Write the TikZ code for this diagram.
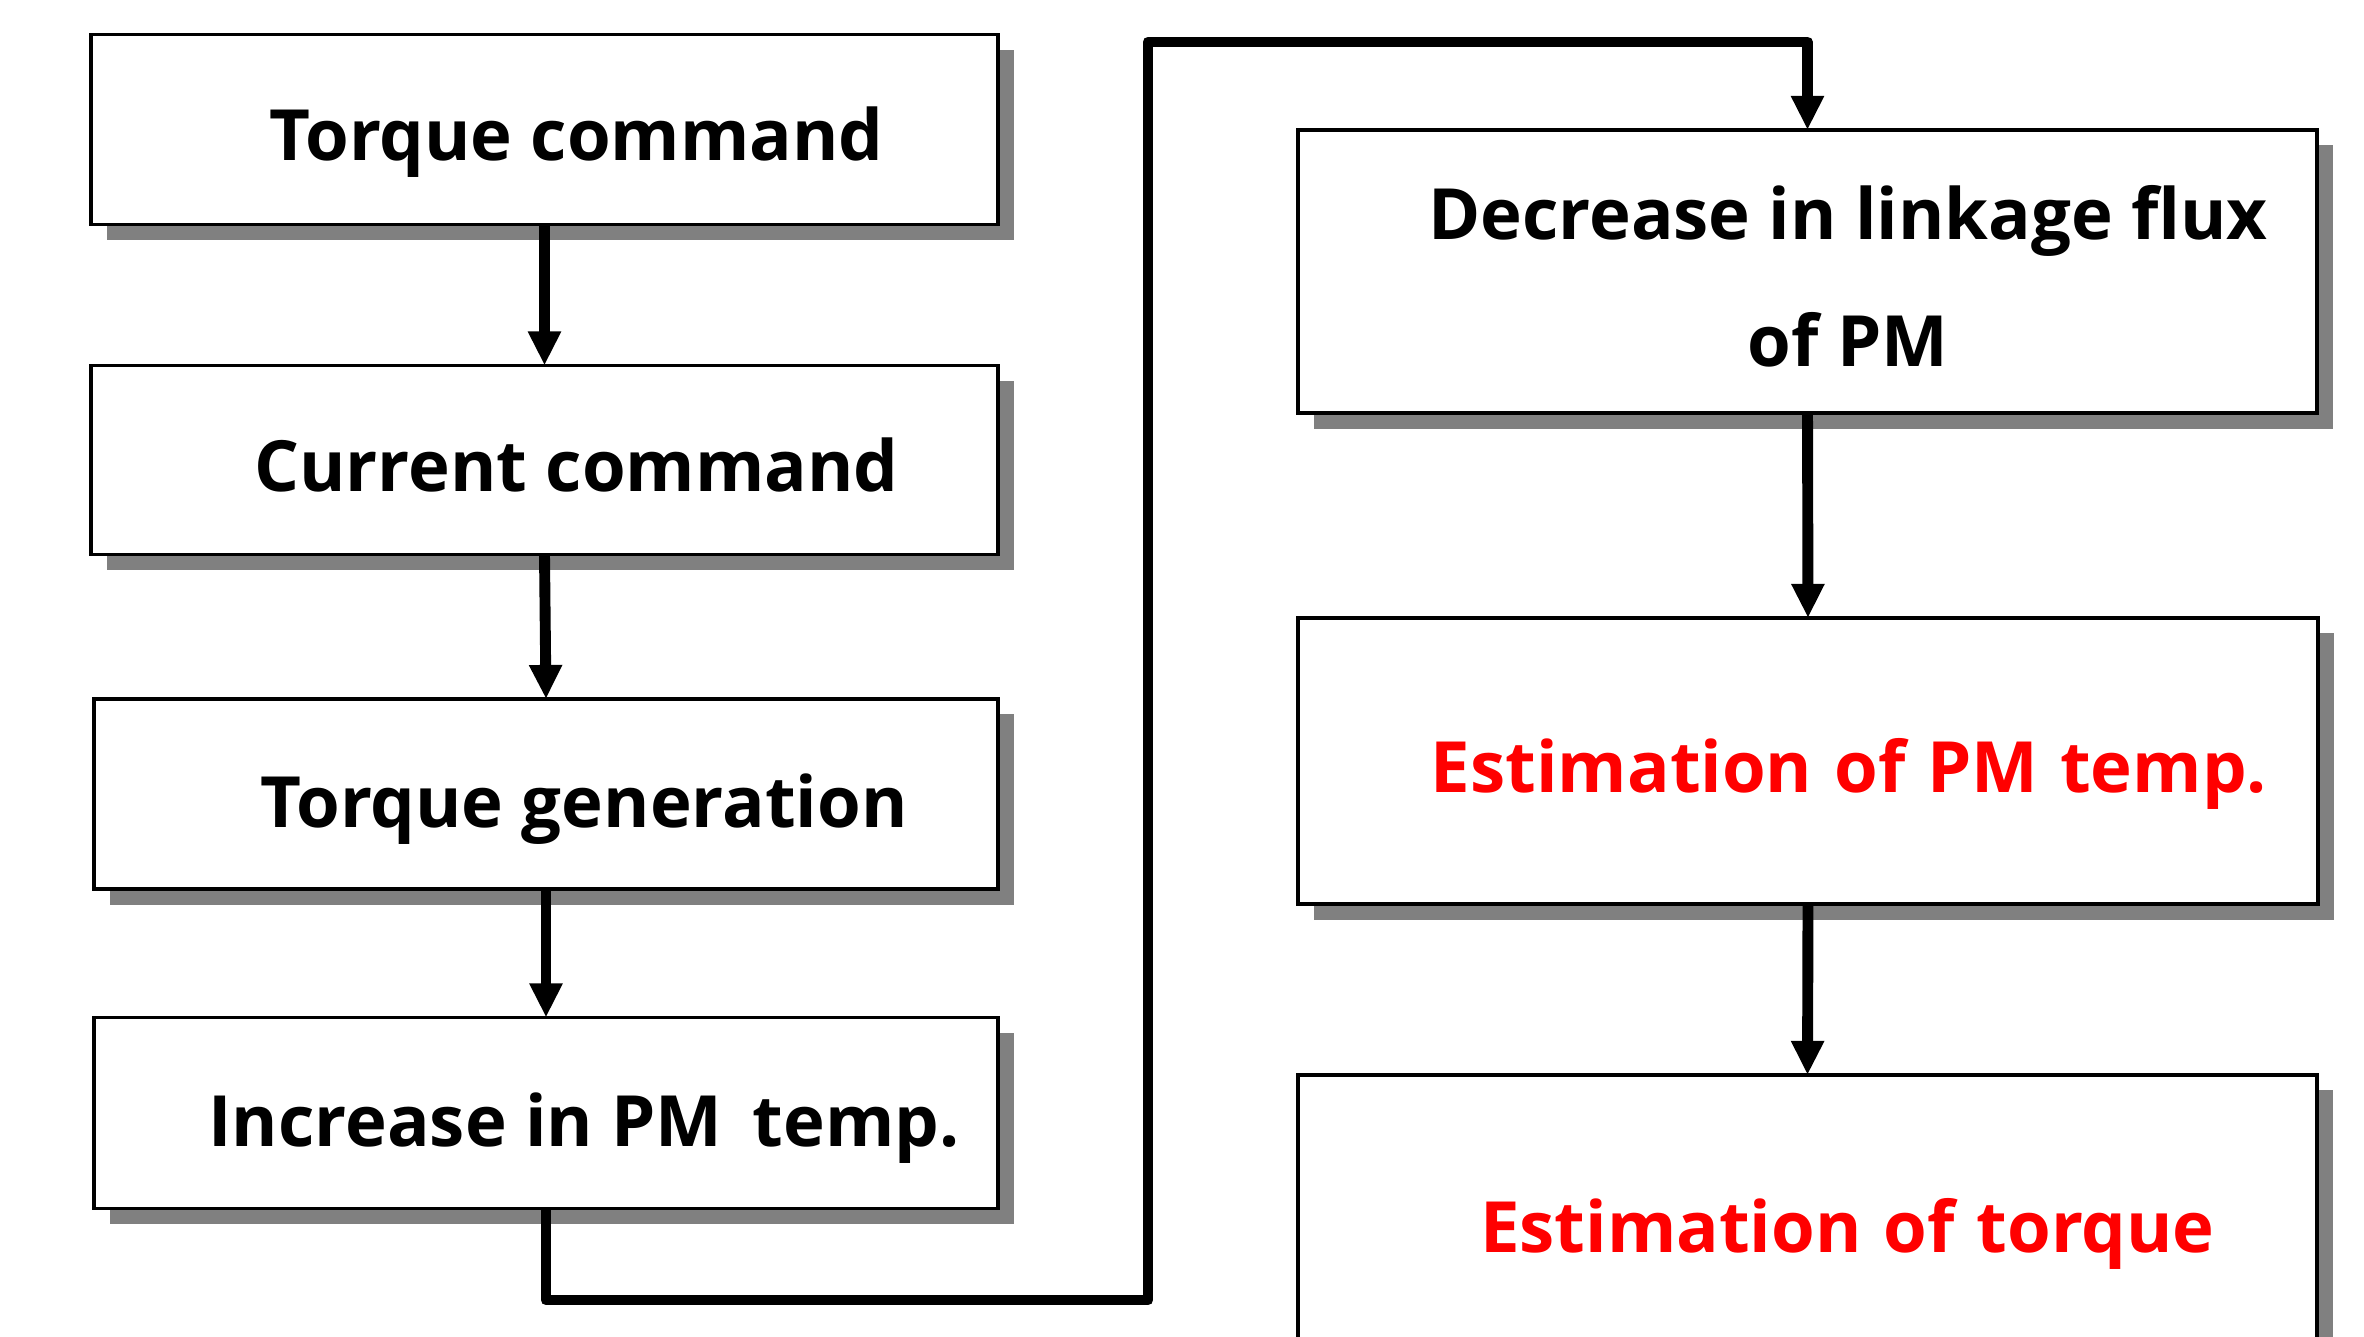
\documentclass[tikz,border=0pt]{standalone}
\usepackage{fontspec}
\setsansfont{Open Sans}
\usetikzlibrary{shadows,arrows.meta,calc}
\definecolor{shadowgray}{RGB}{128,128,128}
\definecolor{estred}{RGB}{255,0,0}
\begin{document}
\begin{tikzpicture}[x=0.01cm,y=-0.01cm,
  flowbox/.style={draw=black, line width=1.05pt, fill=white, rectangle, inner sep=0pt, outer sep=0pt,
    drop shadow={shadow xshift=0.16cm, shadow yshift=-0.155cm, fill=shadowgray, opacity=1}},
  boxtxt/.style={anchor=base, inner sep=0pt, font=\sffamily\bfseries\fontsize{20.1pt}{24pt}\selectfont},
  redtxt/.style={boxtxt, text=estred},
  flowarrow/.style={line width=3.1pt, line join=round, -{Triangle[length=0.34cm,width=0.31cm]}}
]
\useasboundingbox (0,0) rectangle (2364,1337);
\clip (0,0) rectangle (2364,1337);

% left column boxes
\node[flowbox, minimum width=9.07cm, minimum height=1.90cm] (b1) at (544.5,129.5) {};
\node[flowbox, minimum width=9.07cm, minimum height=1.89cm] (b2) at (544.5,460) {};
\node[flowbox, minimum width=9.04cm, minimum height=1.90cm] (b3) at (546,794) {};
\node[flowbox, minimum width=9.04cm, minimum height=1.91cm] (b4) at (546,1113) {};
% right column boxes
\node[flowbox, minimum width=10.19cm, minimum height=2.83cm] (b5) at (1807.5,271.5) {};
\node[flowbox, minimum width=10.19cm, minimum height=2.86cm] (b6) at (1808,761) {};
\node[flowbox, minimum width=10.19cm, minimum height=2.85cm] (b7) at (1807.5,1217.5) {};

% texts
\node[boxtxt] (t1) at (576.5,161) {Torque command};
\node[boxtxt] (t2) at (576.5,492) {Current command};
\node[boxtxt] (t3) at (584,827) {Torque generation};
\node[boxtxt] (t4) at (584,1146) {Increase in PM\, temp.};
\node[boxtxt] (t5a) at (1848,240) {Decrease in linkage flux};
\node[boxtxt] (t5b) at (1848,366.6) {of PM};
\node[redtxt] (t6) at (1849,792) {Estimation\hspace{0.05em} of\hspace{0.05em} PM\hspace{0.05em} temp.};
\node[redtxt] (t7) at (1847.5,1252) {Estimation\hspace{0.05em} of\hspace{0.05em} torque};

% connectors
\coordinate (lp1) at (1148,1300);
\coordinate (lp2) at (1148,42);
\draw[flowarrow] (b1.south) -- (b2.north);
\draw[flowarrow] (b2.south) -- (b3.north);
\draw[flowarrow] (b3.south) -- (b4.north);
\draw[flowarrow] (b4.south) |- (lp1) -- (lp2) -| (b5.north);
\draw[flowarrow] (b5.south) -- (b6.north);
\draw[flowarrow] (b6.south) -- (b7.north);
\end{tikzpicture}
\end{document}
